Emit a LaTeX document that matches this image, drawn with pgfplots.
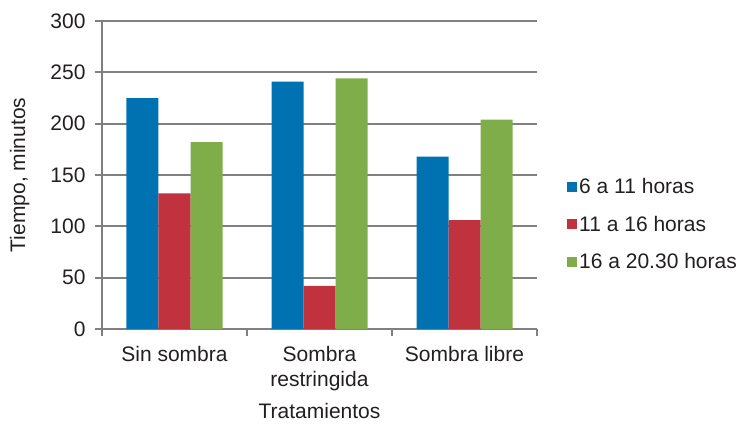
\documentclass[border=0pt]{standalone}
\usepackage{fontspec}
\setmainfont{Liberation Sans}
\usepackage{pgfplots}
\pgfplotsset{compat=1.18}
\definecolor{cblue}{RGB}{0,114,178}
\definecolor{cred}{RGB}{192,50,62}
\definecolor{cgreen}{RGB}{127,173,74}
\definecolor{cgrid}{RGB}{128,128,128}
\definecolor{ctext}{RGB}{35,31,32}
\begin{document}
\begin{tikzpicture}[font=\fontsize{21}{25}\selectfont, text=ctext]
\useasboundingbox (-102pt,-94pt) rectangle (642pt,329pt);
\begin{axis}[
  width=435pt, height=308pt, scale only axis,
  ybar=0pt, bar width=32pt,
  xmin=-0.5, xmax=2.5, ymin=0, ymax=300,
  xtick={0,1,2},
  xticklabels={Sin sombra, {Sombra\\restringida}, Sombra libre},
  xticklabel style={align=center, yshift=-7pt, text=ctext},
  yticklabel style={xshift=-6pt, text=ctext},
  major x tick style={draw=none},
  minor xtick={-0.5,0.5,1.5,2.5},
  minor x tick style={draw=cgrid, line width=1.8pt},
  minor tick length=7pt,
  ytick={0,50,...,300},
  major tick length=7pt,
  tick align=outside,
  y tick style={draw=cgrid, line width=1.8pt},
  ymajorgrids, grid style={draw=cgrid, line width=1.8pt},
  axis x line*=bottom, axis y line*=left,
  axis line style={draw=cgrid, line width=1.8pt, -},
  /pgf/number format/assume math mode=true,
  ylabel={Tiempo, minutos},
  ylabel style={yshift=14pt, text=ctext},
  xlabel={Tratamientos},
  xlabel style={yshift=-5pt, text=ctext},
  legend style={draw=none, at={(1,0.34)}, anchor=west, xshift=27pt,
    row sep=17pt, cells={anchor=west}, fill=none, text=ctext},
  legend image code/.code={\fill[#1] (0pt,-5pt) rectangle (10pt,5pt);},
]
\addplot[fill=cblue, draw=none] coordinates {(0,225) (1,241) (2,168)};
\addplot[fill=cred, draw=none] coordinates {(0,132) (1,42) (2,106)};
\addplot[fill=cgreen, draw=none] coordinates {(0,182) (1,244) (2,204)};
\legend{6 a 11 horas, 11 a 16 horas, 16 a 20.30 horas}
\end{axis}
\end{tikzpicture}
\end{document}
